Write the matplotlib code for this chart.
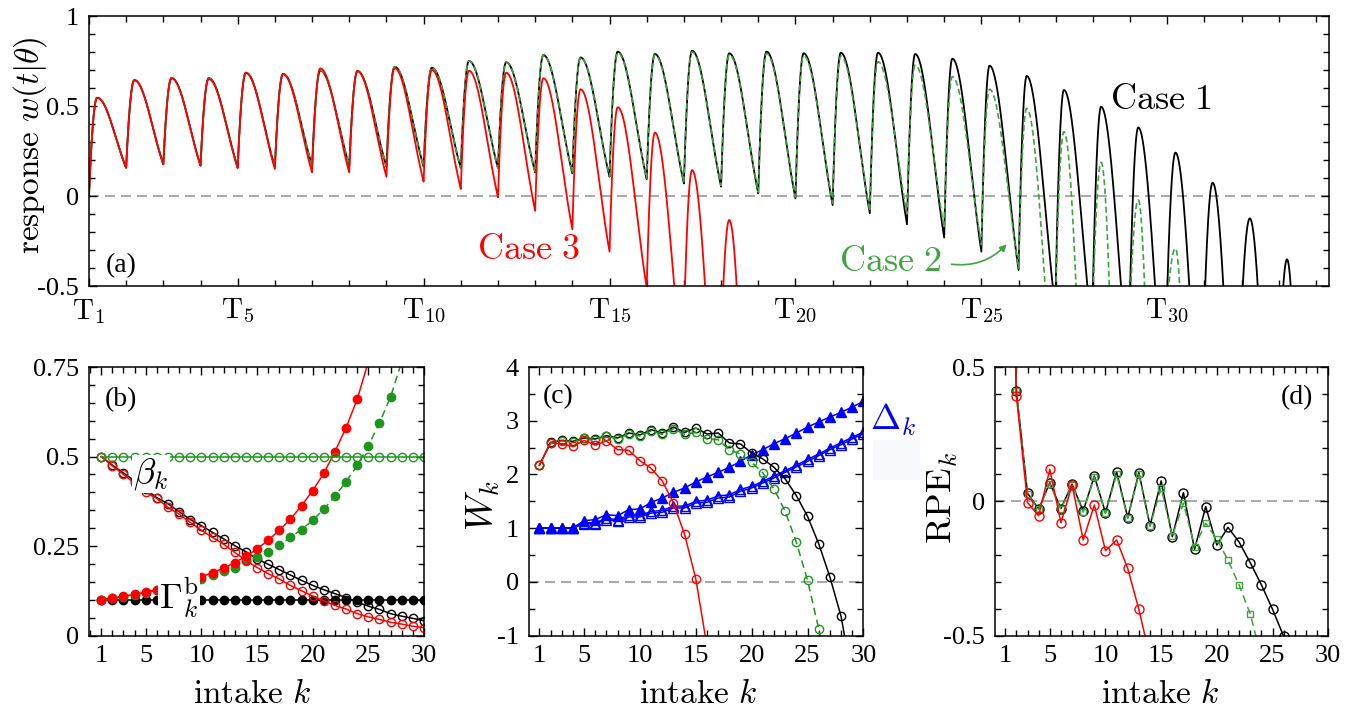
import numpy as np
import matplotlib
matplotlib.use('Agg')
from matplotlib import pyplot as plt
from matplotlib.patches import Rectangle
from matplotlib.ticker import FixedLocator, MultipleLocator

plt.rcParams['font.family'] = ['Liberation Serif', 'DejaVu Serif']
plt.rcParams['mathtext.fontset'] = 'cm'

RED = '#ff0000'
GREEN = '#1e961e'
GREEN_L = '#3fa33f'
BLUE = '#0000ff'
GRAY = '#9a9a9a'

# (a) response w(t|theta), one entry per intake cycle k:
# value at intake T_k, peak value, value just before T_{k+1}
c1_start = [0.0, 0.157, 0.176, 0.169, 0.16, 0.162, 0.17, 0.168, 0.163, 0.163, 0.154, 0.154,
            0.131, 0.126, 0.107, 0.094, 0.07, 0.052, 0.015, -0.013, -0.05, -0.096, -0.157,
            -0.231, -0.309, -0.411, -0.51, -0.51, -0.51, -0.52, -0.62, -0.63, -1.07]
c1_peak = [0.546, 0.644, 0.656, 0.655, 0.685, 0.678, 0.697, 0.694, 0.718, 0.713, 0.75, 0.743,
           0.783, 0.77, 0.802, 0.789, 0.807, 0.793, 0.802, 0.793, 0.796, 0.796, 0.789, 0.763,
           0.724, 0.667, 0.589, 0.496, 0.381, 0.241, 0.074, -0.124, -0.352]
c1_end = [0.157, 0.176, 0.169, 0.16, 0.162, 0.17, 0.168, 0.163, 0.163, 0.154, 0.154, 0.131,
          0.126, 0.107, 0.094, 0.07, 0.052, 0.015, -0.013, -0.05, -0.096, -0.157, -0.231,
          -0.309, -0.411, -0.644, -0.803, -1.099, -1.458, -1.9, -2.56, -3.16, -5.6]

c2_start = [0.0, 0.157, 0.176, 0.169, 0.16, 0.162, 0.17, 0.168, 0.163, 0.163, 0.154, 0.154,
            0.131, 0.126, 0.107, 0.097, 0.075, 0.058, 0.022, -0.005, -0.04, -0.085, -0.1,
            -0.18, -0.27, -0.40, -0.55, -0.6, -0.6, -0.6]
c2_peak = [0.546, 0.644, 0.656, 0.655, 0.685, 0.678, 0.697, 0.694, 0.718, 0.713, 0.75, 0.743,
           0.783, 0.77, 0.797, 0.783, 0.8, 0.785, 0.792, 0.78, 0.778, 0.746, 0.728, 0.663,
           0.593, 0.487, 0.357, 0.187, -0.022, -0.291]
c2_end = [0.157, 0.176, 0.169, 0.16, 0.162, 0.17, 0.168, 0.163, 0.163, 0.154, 0.154, 0.131,
          0.126, 0.107, 0.097, 0.075, 0.058, 0.022, -0.005, -0.04, -0.085, -0.1, -0.18,
          -0.27, -0.40, -1.3, -2.77, -5.0, -6.0, -6.0]

c3_start = [0.0, 0.157, 0.176, 0.169, 0.154, 0.15, 0.131, 0.131, 0.107, 0.08, 0.039, -0.007,
            -0.082, -0.185, -0.309, -0.51, -0.72, -0.82]
c3_peak = [0.546, 0.644, 0.654, 0.65, 0.685, 0.678, 0.709, 0.694, 0.71, 0.70, 0.696, 0.685,
           0.654, 0.593, 0.493, 0.352, 0.144, -0.133]
c3_end = [0.157, 0.176, 0.169, 0.154, 0.15, 0.131, 0.131, 0.107, 0.08, 0.039, -0.007, -0.082,
          -0.185, -0.309, -0.51, -1.075, -1.93, -3.5]

a_ticks = [1, 5, 10, 15, 20, 25, 30]

# (b) beta_k (open) and Gamma_k^b (filled)
beta1 = [0.5, 0.476, 0.454, 0.432, 0.408, 0.385, 0.368, 0.346, 0.324, 0.307, 0.288, 0.27,
         0.251, 0.234, 0.214, 0.199, 0.184, 0.169, 0.154, 0.14, 0.128, 0.117, 0.106, 0.093,
         0.082, 0.073, 0.061, 0.054, 0.048, 0.041]
beta2 = [0.5] * 30
beta3 = [0.5, 0.474, 0.45, 0.425, 0.40, 0.383, 0.358, 0.339, 0.316, 0.294, 0.274, 0.255,
         0.232, 0.21, 0.19, 0.173, 0.158, 0.14, 0.125, 0.11, 0.097, 0.084, 0.074, 0.061,
         0.052, 0.045, 0.037, 0.032, 0.026, 0.022]
gam1 = [0.1] * 30
gam2 = [0.1, 0.104, 0.109, 0.114, 0.12, 0.126, 0.133, 0.14, 0.148, 0.157, 0.17, 0.181,
        0.189, 0.207, 0.218, 0.232, 0.252, 0.274, 0.296, 0.322, 0.353, 0.389, 0.43, 0.475,
        0.53, 0.594, 0.667, 0.765]
gam3 = [0.1, 0.104, 0.11, 0.115, 0.121, 0.128, 0.136, 0.145, 0.154, 0.164, 0.176, 0.188,
        0.204, 0.221, 0.242, 0.266, 0.294, 0.325, 0.363, 0.405, 0.453, 0.514, 0.581, 0.66,
        0.765]

# (c) W_k (circles) and Delta_k (triangles)
W1 = [2.17, 2.597, 2.634, 2.616, 2.679, 2.66, 2.722, 2.679, 2.772, 2.735, 2.833, 2.772, 2.883,
      2.783, 2.865, 2.753, 2.772, 2.586, 2.567, 2.40, 2.288, 2.132, 1.916, 1.605, 1.22, 0.71,
      0.092, -0.64, -1.8]
W2 = [2.17, 2.59, 2.625, 2.605, 2.67, 2.65, 2.71, 2.665, 2.755, 2.715, 2.81, 2.745, 2.85,
      2.745, 2.783, 2.66, 2.647, 2.461, 2.381, 2.225, 2.027, 1.73, 1.313, 0.736, 0.029,
      -0.875, -2.0]
W3 = [2.17, 2.586, 2.573, 2.522, 2.634, 2.548, 2.623, 2.461, 2.448, 2.257, 2.113, 1.879,
      1.469, 0.882, 0.055, -1.2]
D3 = [1.004, 1.004, 1.004, 1.004, 1.14, 1.158, 1.25, 1.233, 1.345, 1.357, 1.48, 1.56, 1.667,
      1.748, 1.86, 1.953, 2.04, 2.132, 2.243, 2.368, 2.461, 2.573, 2.666, 2.772, 2.883, 2.977,
      3.07, 3.155, 3.256, 3.36]
D1 = [1.0, 1.0, 1.0, 1.0, 1.084, 1.084, 1.158, 1.127, 1.208, 1.208, 1.28, 1.295, 1.376, 1.376,
      1.469, 1.48, 1.56, 1.58, 1.686, 1.748, 1.84, 1.935, 2.04, 2.14, 2.243, 2.35, 2.461,
      2.554, 2.66, 2.76]
D2 = [1.0, 1.0, 1.0, 1.0, 1.1, 1.1, 1.18, 1.16, 1.24, 1.24, 1.31, 1.33, 1.41, 1.41, 1.5, 1.52,
      1.6, 1.62, 1.72, 1.78, 1.87, 1.97, 2.07, 2.17, 2.28, 2.38, 2.49, 2.59, 2.69, 2.79]

# (d) RPE_k
R1 = [2.0, 0.409, 0.03, -0.029, 0.069, -0.027, 0.064, -0.036, 0.094, -0.043, 0.11, -0.061,
      0.107, -0.091, 0.076, -0.132, 0.032, -0.179, -0.02, -0.163, -0.097, -0.152, -0.229,
      -0.311, -0.402, -0.503]
R2 = [2.0, 0.409, 0.028, -0.03, 0.065, -0.03, 0.06, -0.04, 0.09, -0.045, 0.1, -0.063, 0.1,
      -0.093, 0.05, -0.13, -0.007, -0.169, -0.082, -0.141, -0.219, -0.312, -0.42, -0.58]
R3 = [2.0, 0.393, -0.005, -0.054, 0.119, -0.08, 0.061, -0.144, -0.014, -0.184, -0.144, -0.25,
      -0.403, -0.583]

k_ticks = [1, 5, 10, 15, 20, 25, 30]


def response_curve(start, peak, end, tp=0.22, n=120):
    t, w = [], []
    for i in range(len(peak)):
        s = np.linspace(0, 1, n)
        x = np.clip(s / tp, 0, 1)
        u = np.clip((s - tp) / (1 - tp), 0, 1)
        rise = start[i] + (peak[i] - start[i]) * (1 - (1 - x) ** 2)
        g = 0.5 * (1 - u ** 2) + 0.25 * (1 + np.cos(np.pi * u))
        fall = end[i] + (peak[i] - end[i]) * g
        t.append(i + 1 + s)
        w.append(np.where(s <= tp, rise, fall))
    return np.concatenate(t), np.concatenate(w)


def style(ax):
    ax.tick_params(which='both', direction='in', top=True, right=True, labelsize=19, width=1.0)
    ax.tick_params(which='major', length=5.5)
    ax.tick_params(which='minor', length=4)
    ax.tick_params(axis='y', pad=7)
    ax.tick_params(axis='x', pad=7)
    for sp in ax.spines.values():
        sp.set_linewidth(1.1)


def num(v):
    return ('%g' % v)


fig = plt.figure(figsize=(13.52, 7.12), dpi=100)
ax_a = fig.add_axes([0.0658, 0.5983, 0.9172, 0.3792])
ax_b = fig.add_axes([0.0658, 0.1074, 0.2478, 0.3771])
ax_c = fig.add_axes([0.3911, 0.1074, 0.2475, 0.3771])
ax_d = fig.add_axes([0.7357, 0.1074, 0.2467, 0.3771])

# ---- (a)
ax_a.axhline(0, color=GRAY, lw=1.2, ls=(0, (6, 3.6)), zorder=1)
t1, w1 = response_curve(c1_start, c1_peak, c1_end)
t2, w2 = response_curve(c2_start, c2_peak, c2_end)
t3, w3 = response_curve(c3_start, c3_peak, c3_end)
ax_a.plot(t1, w1, color='k', lw=1.3)
ax_a.plot(t2, w2, color=GREEN_L, lw=1.2, ls=(0, (3.5, 2)))
ax_a.plot(t3, w3, color=RED, lw=1.3)
ax_a.set_xlim(1, 34.35)
ax_a.set_ylim(-0.5, 1)
ax_a.xaxis.set_major_locator(FixedLocator(a_ticks))
ax_a.set_xticklabels([r'$\mathrm{T}_{%d}$' % k for k in a_ticks])
ax_a.xaxis.set_minor_locator(MultipleLocator(1))
ax_a.yaxis.set_major_locator(FixedLocator([-0.5, 0, 0.5, 1]))
ax_a.set_yticklabels(['-0.5', '0', '0.5', '1'])
ax_a.yaxis.set_minor_locator(MultipleLocator(0.1))
style(ax_a)
ax_a.tick_params(axis='x', labelsize=21, pad=8)
ax_a.text(0.0137, 0.074, '(a)', transform=ax_a.transAxes, fontsize=20, ha='left', va='center')
ax_a.text(28.46, 0.528, r'$\mathrm{Case\ 1}$', fontsize=26, ha='left', va='center')
ax_a.text(12.83, -0.30, r'$\mathrm{Case\ 3}$', fontsize=26, ha='center', va='center', color=RED)
ax_a.text(23.94, -0.367, r'$\mathrm{Case\ 2}$', fontsize=26, ha='right', va='center', color=GREEN_L)
ax_a.annotate('', xy=(25.68, -0.268), xytext=(24.2, -0.379),
              arrowprops=dict(arrowstyle='-|>', color=GREEN_L, lw=1.2, mutation_scale=10,
                              connectionstyle='arc3,rad=0.25', shrinkA=0, shrinkB=0))
fig.text(30 / 1352, 1 - 145 / 712, r'$\mathrm{response}\ w(t|\theta)$', rotation=90,
         fontsize=24, ha='center', va='center')

# ---- (b)
kb = np.arange(1, 31)
mk = dict(ms=6, lw=1.1, mew=1.0)
ax_b.plot(kb, gam1, 'o-', color='k', **mk)
ax_b.plot(kb, beta1, 'o-', color='k', mfc='none', **mk)
ax_b.plot(kb[:len(gam2)], gam2, 'o', ls=(0, (5, 3)), color=GREEN, **mk)
ax_b.plot(kb[:len(gam3)], gam3, 'o-', color=RED, **mk)
ax_b.plot(kb, beta3, 'o-', color=RED, mfc='none', **mk)
ax_b.plot(kb, beta2, 'o-', color=GREEN, mfc='none', **mk)
ax_b.set_xlim(-0.1, 30)
ax_b.set_ylim(0, 0.75)
ax_b.yaxis.set_major_locator(FixedLocator([0, 0.25, 0.5, 0.75]))
ax_b.set_yticklabels(['0', '0.25', '0.5', '0.75'])
ax_b.yaxis.set_minor_locator(MultipleLocator(0.05))
ax_b.text(3.86, 0.451, r'$\beta_k$', fontsize=26, ha='left', va='center',
          bbox=dict(facecolor='white', edgecolor='none', pad=1))
ax_b.text(6.2, 0.1075, r'$\Gamma_k^{\mathrm{b}}$', fontsize=26, ha='left', va='center',
          bbox=dict(facecolor='white', edgecolor='none', pad=1))
ax_b.text(0.048, 0.877, '(b)', transform=ax_b.transAxes, fontsize=20, ha='left', va='center')

# ---- (c)
ax_c.axhline(0, color=GRAY, lw=1.2, ls=(0, (6, 3.6)), zorder=1)
tri = dict(ms=6.5, lw=1.1, mew=1.0)
ax_c.plot(kb, D3, '^-', color=BLUE, **tri)
ax_c.plot(kb, D1, '^-', color=BLUE, mfc='none', **tri)
ax_c.plot(kb, D2, '^-', color=BLUE, mfc='none', **tri)
ax_c.plot(kb[:len(W1)], W1, 'o-', color='k', mfc='none', **mk)
ax_c.plot(kb[:len(W2)], W2, 'o', ls=(0, (5, 3)), color=GREEN, mfc='none', **mk)
ax_c.plot(kb[:len(W3)], W3, 'o-', color=RED, mfc='none', **mk)
ax_c.set_xlim(0.05, 30)
ax_c.set_ylim(-1, 4)
ax_c.yaxis.set_major_locator(FixedLocator([-1, 0, 1, 2, 3, 4]))
ax_c.set_yticklabels(['-1', '0', '1', '2', '3', '4'])
ax_c.yaxis.set_minor_locator(MultipleLocator(0.5))
ax_c.text(0.043, 0.889, '(c)', transform=ax_c.transAxes, fontsize=20, ha='left', va='center')
ax_c.text(30.6, 3.02, r'$\Delta_k$', fontsize=26, ha='left', va='center', color=BLUE)
fig.text(483 / 1352, 1 - 506 / 712, r'$W_k$', rotation=90, fontsize=27, ha='center', va='center')
fig.patches.append(Rectangle((873 / 1352, 1 - 480 / 712), 47 / 1352, 40 / 712,
                             transform=fig.transFigure, facecolor='#f8f9fd', edgecolor='none',
                             zorder=0))

# ---- (d)
ax_d.axhline(0, color=GRAY, lw=1.2, ls=(0, (6, 3.6)), zorder=1)
ax_d.plot(kb[:len(R1)], R1, 'o-', color='k', mfc='none', ms=6.5, lw=1.1, mew=1.0)
ax_d.plot(kb[:len(R2)], R2, 's', ls=(0, (5, 3)), color=GREEN_L, mfc='none', ms=4.5, lw=1.1,
          mew=1.0)
ax_d.plot(kb[:len(R3)], R3, 'o-', color=RED, mfc='none', ms=6.5, lw=1.1, mew=1.0)
ax_d.set_xlim(0.05, 30)
ax_d.set_ylim(-0.5, 0.5)
ax_d.yaxis.set_major_locator(FixedLocator([-0.5, 0, 0.5]))
ax_d.set_yticklabels(['-0.5', '0', '0.5'])
ax_d.yaxis.set_minor_locator(MultipleLocator(0.1))
ax_d.text(0.954, 0.885, '(d)', transform=ax_d.transAxes, fontsize=20, ha='right', va='center')
fig.text(943 / 1352, 1 - 498 / 712, r'$\mathrm{RPE}_k$', rotation=90, fontsize=26,
         ha='center', va='center')

for ax, xc in ((ax_b, 252), (ax_c, 698), (ax_d, 1160)):
    ax.xaxis.set_major_locator(FixedLocator(k_ticks))
    ax.set_xticklabels([num(k) for k in k_ticks])
    ax.xaxis.set_minor_locator(MultipleLocator(1))
    style(ax)
    fig.text(xc / 1352, 1 - 695 / 712, r'$\mathrm{intake}\ k$', fontsize=24, ha='center',
             va='center')

fig.savefig('out.png', dpi=100)
